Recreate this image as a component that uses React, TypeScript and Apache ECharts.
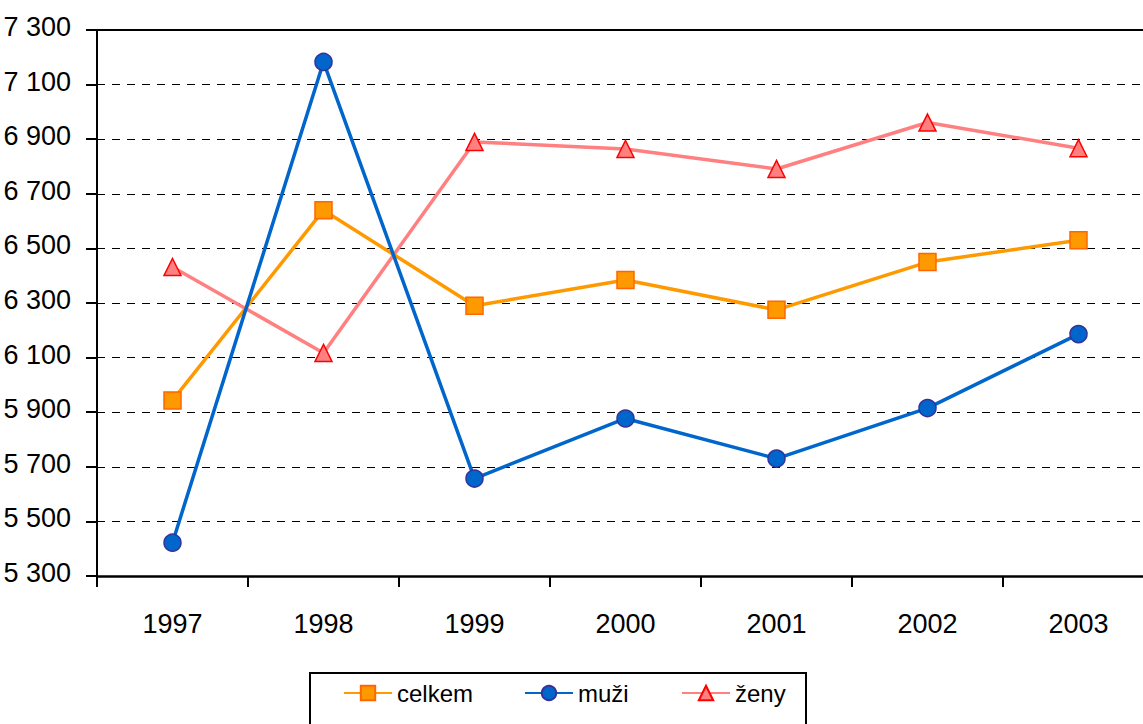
import React, { useEffect, useRef } from "react";
import * as echarts from "echarts";

const years = ["1997", "1998", "1999", "2000", "2001", "2002", "2003"];
const celkem = [5943, 6640, 6290, 6384, 6275, 6450, 6530];
const muzi = [5422, 7183, 5657, 5877, 5730, 5915, 6186];
const zeny = [6432, 6117, 6890, 6864, 6791, 6961, 6867];
const yMin = 5300;
const yMax = 7300;
const yStep = 200;

const FONT = "'Liberation Sans', Arial, sans-serif";

function fmt(v: number): string {
  const t = Math.floor(v / 1000);
  const r = String(Math.round(v % 1000)).padStart(3, "0");
  return `${t} ${r}`;
}

export default function App() {
  const ref = useRef<HTMLDivElement>(null);
  useEffect(() => {
    document.body.style.margin = "0";
    document.body.style.overflow = "hidden";
    const chart = echarts.init(ref.current!, null, { renderer: "svg" });
    const legendBase = {
      top: 681,
      itemWidth: 48,
      itemHeight: 18,
      itemGap: 0,
      padding: 0,
      textStyle: { fontSize: 24, fontFamily: FONT, color: "#000" },
    };
    chart.setOption({
      animation: false,
      backgroundColor: "#fff",
      grid: { left: 97, top: 30, right: 0, height: 546 },
      xAxis: [
        {
          type: "category",
          data: years,
          boundaryGap: true,
          axisLine: { show: true, lineStyle: { color: "#000", width: 2.5 } },
          axisTick: { show: true, length: 11, inside: false, lineStyle: { color: "#000", width: 2 } },
          axisLabel: { color: "#000", fontSize: 27, fontFamily: FONT, margin: 34 },
          splitLine: { show: false },
        },
        {
          type: "category",
          data: years,
          position: "top",
          axisLine: { show: true, lineStyle: { color: "#000", width: 2 } },
          axisTick: { show: false },
          axisLabel: { show: false },
          splitLine: { show: false },
        },
      ],
      yAxis: {
        type: "value",
        min: yMin,
        max: yMax,
        interval: yStep,
        axisLine: { show: true, lineStyle: { color: "#000", width: 2 } },
        axisTick: { show: true, length: 11, lineStyle: { color: "#000", width: 2 } },
        axisLabel: {
          color: "#000",
          fontSize: 27,
          fontFamily: FONT,
          margin: 26,
          verticalAlign: "bottom",
          lineHeight: 6,
          formatter: fmt,
        },
        splitLine: { show: true, lineStyle: { color: "#000", width: 1, type: [8, 7] } },
      },
      legend: [
        { ...legendBase, left: 343, data: ["celkem"] },
        { ...legendBase, left: 524, data: ["muži"] },
        { ...legendBase, left: 681, data: ["ženy"] },
      ],
      graphic: [
        {
          type: "rect",
          shape: { x: 310, y: 673, width: 496, height: 70 },
          style: { fill: "none", stroke: "#000", lineWidth: 2 },
          z: 100,
        },
      ],
      series: [
        {
          name: "celkem",
          type: "line",
          data: celkem,
          symbol: "rect",
          symbolSize: 17,
          lineStyle: { color: "#FF9900", width: 3.5 },
          itemStyle: { color: "#FF9900", borderColor: "#FF6600", borderWidth: 1.5 },
          z: 3,
        },
        {
          name: "muži",
          type: "line",
          data: muzi,
          symbol: "circle",
          symbolSize: 17,
          lineStyle: { color: "#0066CC", width: 3.5 },
          itemStyle: { color: "#0066CC", borderColor: "#333399", borderWidth: 1.5 },
          z: 4,
        },
        {
          name: "ženy",
          type: "line",
          data: zeny,
          symbol: "triangle",
          symbolSize: 17,
          lineStyle: { color: "#FF8080", width: 3.5 },
          itemStyle: { color: "#FF8080", borderColor: "#FF0000", borderWidth: 1.5 },
          z: 2,
        },
      ],
    });
    return () => chart.dispose();
  }, []);
  return <div ref={ref} style={{ width: 1154, height: 724 }} />;
}
